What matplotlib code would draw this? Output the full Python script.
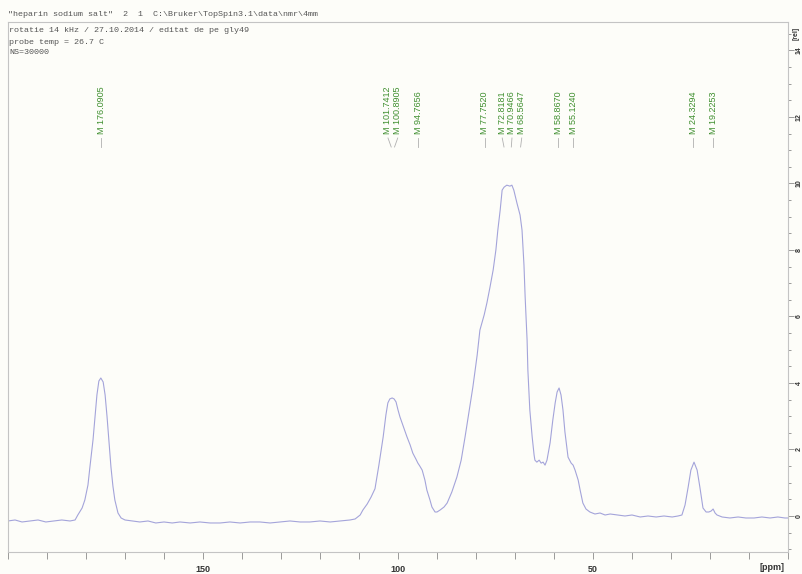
import matplotlib
matplotlib.use("Agg")
import matplotlib.pyplot as plt
from matplotlib.ticker import MultipleLocator, FixedLocator

# ---- data ----
ppm = [200.0, 198.2, 196.4, 194.4, 192.3, 190.3, 188.2, 186.2, 184.1, 182.8,
       182.1, 181.0, 180.3, 179.5, 179.0, 178.2, 177.7, 177.2, 176.7, 176.2,
       175.6, 175.1, 174.6, 174.1, 173.6, 173.1, 172.6, 171.8, 171.0, 170.0,
       168.2, 166.2, 164.1, 162.1, 160.0, 157.9, 155.9, 153.3, 150.8, 148.2,
       145.6, 143.1, 140.5, 137.9, 135.4, 132.8, 130.3, 127.7, 125.1, 122.6,
       120.0, 117.4, 114.9, 112.3, 111.0, 109.7, 109.0, 107.9, 106.9, 105.9,
       104.9, 103.8, 103.1, 102.6, 102.1, 101.5, 101.0, 100.5, 100.0, 99.5,
       98.5, 97.7, 96.9, 96.2, 95.4, 94.9, 94.4, 93.8, 93.1, 92.6,
       91.8, 91.3, 90.5, 90.0, 89.2, 88.2, 87.4, 86.2, 84.9, 83.8,
       82.8, 81.8, 80.8, 79.7, 79.0, 77.9, 77.2, 76.4, 75.6, 74.9,
       74.4, 73.8, 73.3, 72.8, 72.1, 71.3, 70.8, 70.3, 69.5, 68.7,
       68.2, 67.7, 67.4, 66.9, 66.7, 66.2, 65.6, 65.1, 64.9, 64.4,
       63.8, 63.3, 62.8, 62.3, 61.8, 61.0, 60.3, 59.7, 59.2, 58.7,
       58.2, 57.7, 57.2, 56.4, 55.6, 55.1, 54.6, 53.8, 53.3, 52.6,
       51.8, 50.8, 49.5, 48.2, 46.9, 45.6, 43.8, 41.8, 40.0, 37.9,
       35.9, 33.8, 31.8, 29.7, 28.2, 27.2, 26.4, 25.6, 24.9, 24.1,
       23.3, 22.6, 21.8, 21.0, 20.3, 19.7, 19.2, 18.7, 18.2, 16.9,
       14.9, 12.8, 10.8, 8.7, 6.7, 4.6, 2.6, 0.8, 0.0]

intensity = [-0.15, -0.12, -0.18, -0.15, -0.12, -0.18, -0.15, -0.12, -0.15, -0.12,
             0.03, 0.24, 0.48, 0.93, 1.47, 2.29, 2.98, 3.64, 4.06, 4.15,
             4.03, 3.64, 2.98, 2.23, 1.47, 0.90, 0.48, 0.09, -0.06, -0.12,
             -0.15, -0.18, -0.15, -0.21, -0.18, -0.21, -0.18, -0.21, -0.18, -0.21,
             -0.21, -0.18, -0.21, -0.18, -0.18, -0.21, -0.18, -0.15, -0.18, -0.18,
             -0.15, -0.18, -0.15, -0.12, -0.09, 0.03, 0.18, 0.36, 0.57, 0.82,
             1.53, 2.38, 3.04, 3.40, 3.52, 3.55, 3.52, 3.43, 3.19, 2.98,
             2.65, 2.38, 2.14, 1.89, 1.71, 1.59, 1.50, 1.38, 1.08, 0.78,
             0.48, 0.27, 0.12, 0.12, 0.18, 0.27, 0.39, 0.72, 1.17, 1.68,
             2.38, 3.13, 3.88, 4.84, 5.59, 6.05, 6.41, 6.89, 7.40, 8.00,
             8.60, 9.20, 9.80, 9.89, 9.95, 9.92, 9.95, 9.80, 9.41, 9.05,
             8.60, 7.55, 6.59, 5.29, 4.39, 3.19, 2.38, 1.83, 1.68, 1.62,
             1.68, 1.59, 1.62, 1.53, 1.68, 2.20, 2.89, 3.40, 3.73, 3.85,
             3.64, 3.19, 2.53, 1.77, 1.59, 1.53, 1.38, 1.08, 0.78, 0.39,
             0.21, 0.12, 0.06, 0.09, 0.03, 0.06, 0.03, 0.00, 0.03, -0.03,
             0.00, -0.03, 0.00, -0.03, 0.00, 0.03, 0.33, 0.87, 1.38, 1.62,
             1.38, 0.87, 0.24, 0.12, 0.12, 0.15, 0.21, 0.09, 0.03, -0.03,
             -0.06, -0.03, -0.06, -0.06, -0.03, -0.06, -0.03, -0.06, -0.06]

peak_ppm = [176.0905, 101.7412, 100.8905, 94.7656, 77.7520, 72.8181,
            70.9466, 68.5647, 58.8670, 55.1240, 24.3294, 19.2253]
peak_labels = ["M %.4f" % v for v in peak_ppm]

x_ticks = [150, 100, 50]
y_ticks = [0, 2, 4, 6, 8, 10, 12, 14]

header = '"heparin sodium salt"  2  1  C:\\Bruker\\TopSpin3.1\\data\\nmr\\4mm'
info_lines = ["rotatie 14 kHz / 27.10.2014 / editat de pe gly49",
              "probe temp = 26.7 C",
              "NS=30000"]

# ---- figure ----
W, H = 802, 574
fig = plt.figure(figsize=(W / 100, H / 100), dpi=100)
bg = "#fdfdf9"
fig.patch.set_facecolor(bg)
L, R, T, B = 8, 788, 22, 552
ax = fig.add_axes([L / W, 1 - B / H, (R - L) / W, (B - T) / H])
ax.set_facecolor(bg)

ax.plot(ppm, intensity, color="#a4a4da", lw=0.8)
ax.set_xlim(200, 0)
ax.set_ylim(-1.083, 14.857)

frame_c = "#c4c4c4"
for s in ax.spines.values():
    s.set_color(frame_c)
    s.set_linewidth(0.8)

ax.xaxis.set_major_locator(FixedLocator(x_ticks))
ax.xaxis.set_minor_locator(MultipleLocator(10))
ax.yaxis.tick_right()
ax.yaxis.set_major_locator(FixedLocator(y_ticks))
ax.yaxis.set_minor_locator(MultipleLocator(0.5))
ax.tick_params(axis="both", which="both", direction="out", color="#9a9a9a", width=0.7)
ax.tick_params(axis="x", which="major", length=5, pad=4, labelsize=6.5, labelcolor="#333333")
ax.tick_params(axis="x", which="minor", length=5)
ax.tick_params(axis="y", which="major", length=4, pad=1.5, labelsize=5, labelcolor="#333333")
ax.tick_params(axis="y", which="minor", length=2.5)
for lab in ax.get_xticklabels():
    lab.set_fontfamily("Liberation Sans")
    lab.set_fontweight("bold")
for lab in ax.get_yticklabels():
    lab.set_rotation(90)
    lab.set_fontfamily("Liberation Sans")
    lab.set_fontweight("bold")
    lab.set_va("center")

fig.text(772 / W, 1 - 567 / H, "[ppm]", fontsize=6.5, fontweight="bold",
         family="Liberation Sans", color="#333333", ha="center", va="center")
fig.text(796 / W, 1 - 33 / H, "[rel]", fontsize=5, fontweight="bold",
         family="Liberation Sans", color="#333333", ha="center", va="center", rotation=90)

# header and parameters
fig.text(8 / W, 1 - 15 / H, header, fontsize=6, family="Liberation Mono",
         color="#555555", va="center", ha="left")
for i, line in enumerate(info_lines):
    fig.text(9 / W, 1 - (31 + 11 * i) / H, line, fontsize=6, family="Liberation Mono",
             color="#555555", va="center", ha="left")

# peak labels: spread overlapping ones
min_sep = 2.5
pos = list(peak_ppm)
for _ in range(200):
    moved = False
    for i in range(len(pos) - 1):
        d = pos[i] - pos[i + 1]
        if d < min_sep:
            shift = (min_sep - d) / 2 + 1e-6
            pos[i] += shift
            pos[i + 1] -= shift
            moved = True
    if not moved:
        break

trans = ax.get_xaxis_transform()
y_top_conn = (B - 138) / (B - T)
y_bot_conn = (B - 147) / (B - T)
y_text = (B - 134) / (B - T)
for p, lp, lab in zip(peak_ppm, pos, peak_labels):
    ax.plot([lp, p], [y_top_conn, y_bot_conn], transform=trans, color="#b0b0b0", lw=0.6,
            clip_on=False)
    ax.text(lp, y_text, lab, transform=trans, rotation=90, ha="center", va="bottom",
            fontsize=6.5, family="Liberation Sans", color="#3f8f2f")

fig.savefig("out.png", dpi=100, facecolor=bg)
